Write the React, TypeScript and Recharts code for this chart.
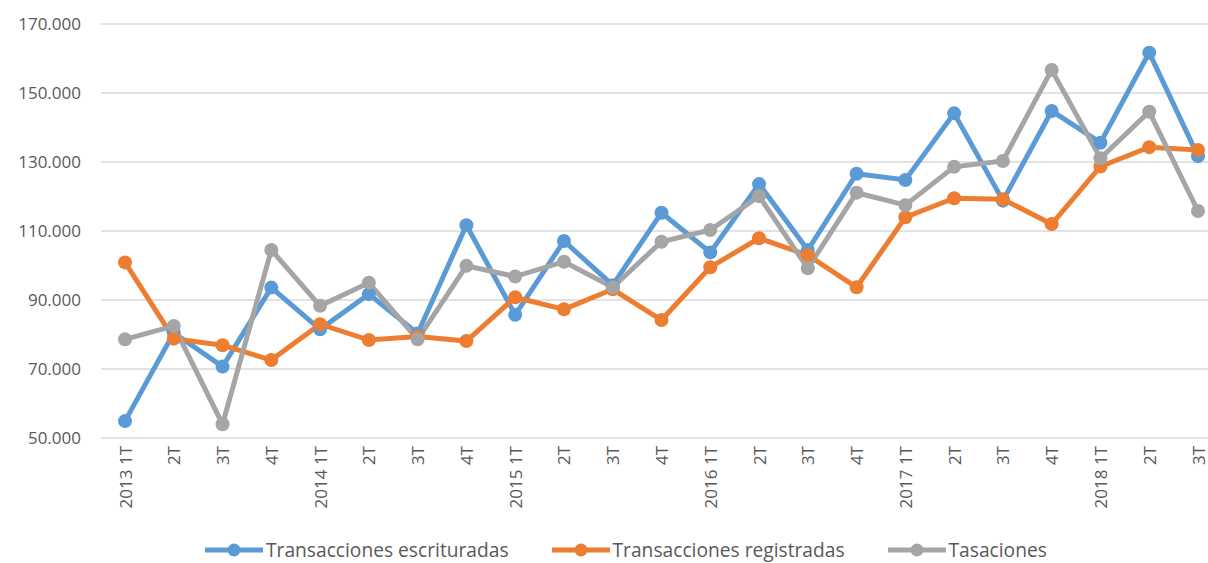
import { CartesianGrid, Legend, Line, LineChart, XAxis, YAxis } from 'recharts';

const quarters = [
  '2013 1T', '2T', '3T', '4T',
  '2014 1T', '2T', '3T', '4T',
  '2015 1T', '2T', '3T', '4T',
  '2016 1T', '2T', '3T', '4T',
  '2017 1T', '2T', '3T', '4T',
  '2018 1T', '2T', '3T',
];

const escrituradas = [
  54900, 80500, 70700, 93600, 81500, 91700, 80300, 111700, 85700, 107100, 94300, 115300,
  103800, 123600, 104500, 126600, 124800, 144100, 118800, 144800, 135600, 161700, 131700,
];
const registradas = [
  100900, 78800, 76900, 72600, 83000, 78400, 79400, 78100, 90800, 87300, 93100, 84200,
  99500, 107900, 103000, 93700, 114000, 119500, 119200, 112000, 128700, 134300, 133500,
];
const tasaciones = [
  78600, 82500, 54000, 104500, 88300, 95000, 78600, 99900, 96800, 101100, 93700, 106900,
  110300, 120100, 99200, 121100, 117500, 128600, 130300, 156700, 131100, 144600, 115800,
];

const yTicks = [50000, 70000, 90000, 110000, 130000, 150000, 170000];

const series = [
  { key: 'esc', name: 'Transacciones escrituradas', color: '#5B9BD5' },
  { key: 'reg', name: 'Transacciones registradas', color: '#ED7D31' },
  { key: 'tas', name: 'Tasaciones', color: '#A5A5A5' },
];

const data = quarters.map((q, i) => ({
  q,
  esc: escrituradas[i],
  reg: registradas[i],
  tas: tasaciones[i],
}));

const FONT = '"Open Sans", "Noto Sans", sans-serif';
const TEXT = '#595959';

const fmt = (v: number) => `${Math.round(v / 1000)}.000`;

function QuarterTick({ x, y, payload }: any) {
  return (
    <text
      x={x}
      y={y}
      transform={`rotate(-90, ${x}, ${y})`}
      textAnchor="end"
      dominantBaseline="central"
      fill={TEXT}
      fontSize={17}
      fontFamily={FONT}
    >
      {payload.value}
    </text>
  );
}

function LegendRow() {
  return (
    <div
      style={{
        display: 'flex',
        alignItems: 'center',
        height: 25,
        paddingLeft: 205,
        paddingBottom: 2,
        gap: 43,
        fontFamily: FONT,
        fontSize: 19.2,
        color: TEXT,
        whiteSpace: 'nowrap',
        boxSizing: 'border-box',
      }}
    >
      {series.map((s) => (
        <div key={s.key} style={{ display: 'flex', alignItems: 'center' }}>
          <svg width={58} height={14} style={{ marginRight: 3 }}>
            <line x1={0} y1={7} x2={58} y2={7} stroke={s.color} strokeWidth={5} />
            <circle cx={29} cy={7} r={6.5} fill={s.color} />
          </svg>
          <span style={{ lineHeight: '21px' }}>{s.name}</span>
        </div>
      ))}
    </div>
  );
}

export default function App() {
  return (
    <div
      style={{
        position: 'absolute',
        left: 0,
        top: 0,
        width: 1208,
        height: 563,
        overflow: 'hidden',
        background: '#fff',
      }}
    >
      <LineChart
        width={1222}
        height={563}
        data={data}
        margin={{ top: 24, right: 0, left: 21, bottom: 0 }}
      >
        <CartesianGrid vertical={false} stroke="#d9d9d9" strokeWidth={1.3} />
        <XAxis
          dataKey="q"
          axisLine={false}
          tickLine={false}
          interval={0}
          height={100}
          padding={{ left: 24, right: 24 }}
          tick={<QuarterTick />}
        />
        <YAxis
          width={80}
          domain={[50000, 170000]}
          ticks={yTicks}
          axisLine={false}
          tickLine={false}
          tickMargin={14}
          tickFormatter={fmt}
          tick={{ fill: TEXT, fontSize: 17, fontFamily: FONT }}
        />
        <Legend
          verticalAlign="bottom"
          content={<LegendRow />}
          wrapperStyle={{ left: 0, width: 1208 }}
        />
        {series.map((s) => (
          <Line
            key={s.key}
            dataKey={s.key}
            name={s.name}
            type="linear"
            stroke={s.color}
            strokeWidth={5}
            dot={{ r: 7, fill: s.color, stroke: s.color, strokeWidth: 0 }}
            activeDot={false}
            isAnimationActive={false}
          />
        ))}
      </LineChart>
    </div>
  );
}
